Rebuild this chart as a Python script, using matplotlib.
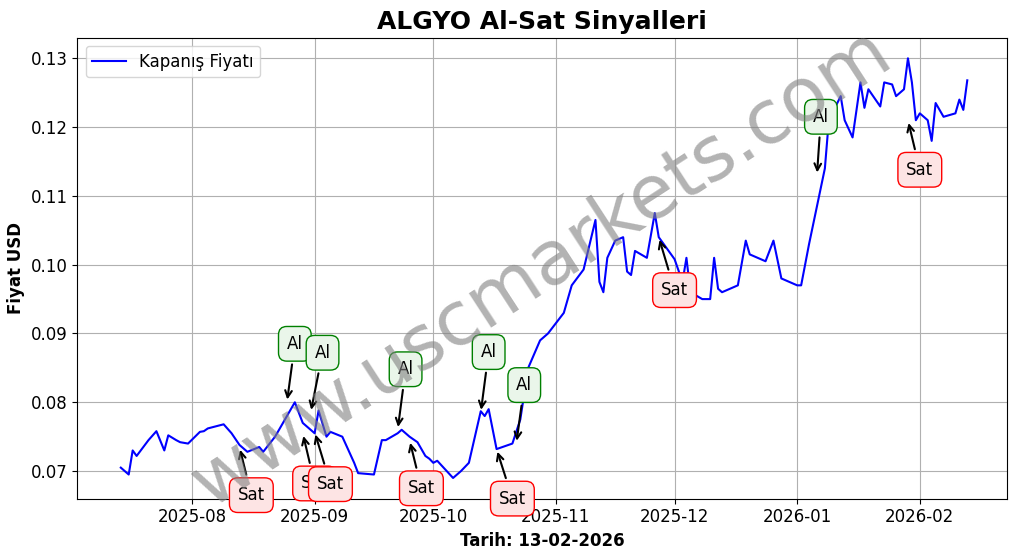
import matplotlib
matplotlib.use("Agg")
import matplotlib.pyplot as plt
import matplotlib.dates as mdates
import pandas as pd

dates = ["2025-07-14","2025-07-16","2025-07-17","2025-07-18","2025-07-21","2025-07-23","2025-07-25","2025-07-26",
 "2025-07-28","2025-07-29","2025-07-31","2025-08-03","2025-08-04","2025-08-05","2025-08-09","2025-08-11",
 "2025-08-13","2025-08-15","2025-08-18","2025-08-19","2025-08-22","2025-08-25","2025-08-27","2025-08-29",
 "2025-09-01","2025-09-02","2025-09-04","2025-09-05","2025-09-08","2025-09-11","2025-09-12","2025-09-16",
 "2025-09-18","2025-09-19","2025-09-22","2025-09-23","2025-09-25","2025-09-27","2025-09-29","2025-09-30",
 "2025-10-01","2025-10-02","2025-10-06","2025-10-08","2025-10-10","2025-10-13","2025-10-14","2025-10-15",
 "2025-10-17","2025-10-21","2025-10-23","2025-10-25","2025-10-28","2025-10-30","2025-11-03","2025-11-05",
 "2025-11-08","2025-11-11","2025-11-12","2025-11-13","2025-11-14","2025-11-16","2025-11-18","2025-11-19",
 "2025-11-20","2025-11-21","2025-11-24","2025-11-26","2025-11-27","2025-12-01","2025-12-03","2025-12-04",
 "2025-12-05","2025-12-08","2025-12-10","2025-12-11","2025-12-12","2025-12-13","2025-12-17","2025-12-19",
 "2025-12-20","2025-12-24","2025-12-26","2025-12-28","2026-01-01","2026-01-02","2026-01-04","2026-01-08",
 "2026-01-09","2026-01-12","2026-01-13","2026-01-15","2026-01-17","2026-01-18","2026-01-19","2026-01-22",
 "2026-01-23","2026-01-25","2026-01-26","2026-01-28","2026-01-29","2026-01-30","2026-01-31","2026-02-01",
 "2026-02-03","2026-02-04","2026-02-05","2026-02-07","2026-02-10","2026-02-11","2026-02-12","2026-02-13"]
prices = [0.0705,0.0695,0.0730,0.0722,0.0745,0.0758,0.0730,0.0752,
 0.0745,0.0742,0.0740,0.0757,0.0758,0.0762,0.0768,0.0755,
 0.0738,0.0728,0.0735,0.0728,0.0750,0.0780,0.0800,0.0770,
 0.0755,0.0788,0.0750,0.0757,0.0750,0.0712,0.0697,0.0695,
 0.0745,0.0745,0.0755,0.0760,0.0750,0.0742,0.0722,0.0718,
 0.0712,0.0715,0.0690,0.0700,0.0712,0.0787,0.0780,0.0790,
 0.0732,0.0740,0.0775,0.0850,0.0890,0.0900,0.0930,0.0970,
 0.0993,0.1065,0.0975,0.0960,0.1010,0.1035,0.1040,0.0990,
 0.0985,0.1020,0.1010,0.1075,0.1040,0.1008,0.0975,0.1010,
 0.0960,0.0950,0.0950,0.1010,0.0965,0.0960,0.0970,0.1035,
 0.1015,0.1005,0.1035,0.0980,0.0970,0.0970,0.1030,0.1140,
 0.1210,0.1245,0.1210,0.1185,0.1265,0.1228,0.1255,0.1230,
 0.1265,0.1262,0.1245,0.1255,0.1300,0.1265,0.1210,0.1220,
 0.1210,0.1180,0.1235,0.1215,0.1220,0.1240,0.1225,0.1268]

al_pts = [("2025-08-25",0.0800),("2025-08-31",0.0785),("2025-09-22",0.0760),
          ("2025-10-13",0.0785),("2025-10-22",0.0740),("2026-01-06",0.1130)]
al_txt = [("2025-08-27",0.0885),("2025-09-03",0.0872),("2025-09-24",0.0848),
          ("2025-10-15",0.0873),("2025-10-24",0.0825),("2026-01-07",0.1215)]
sat_pts = [("2025-08-13",0.0735),("2025-08-29",0.0755),("2025-09-01",0.0757),
           ("2025-09-25",0.0745),("2025-10-17",0.0732),("2025-11-27",0.1040),("2026-01-29",0.1210)]
sat_txt = [("2025-08-16",0.0665),("2025-09-01",0.0682),("2025-09-05",0.0681),
           ("2025-09-28",0.0675),("2025-10-21",0.0660),("2025-12-01",0.0963),("2026-02-01",0.1138)]

fig, ax = plt.subplots(figsize=(10.17,5.54), dpi=100)
ax.plot(pd.to_datetime(dates), prices, color="blue", lw=1.5, label="Kapanış Fiyatı")
for (d,v),(td,tv) in zip(al_pts, al_txt):
    ax.annotate("Al", xy=(pd.Timestamp(d),v), xytext=(pd.Timestamp(td),tv), ha="center", va="center", fontsize=12,
                bbox=dict(boxstyle="round,pad=0.5", fc="#eaf6ea", ec="green"),
                arrowprops=dict(arrowstyle="->", color="black", lw=1.5))
for (d,v),(td,tv) in zip(sat_pts, sat_txt):
    ax.annotate("Sat", xy=(pd.Timestamp(d),v), xytext=(pd.Timestamp(td),tv), ha="center", va="center", fontsize=12,
                bbox=dict(boxstyle="round,pad=0.5", fc="#fde4e4", ec="red"),
                arrowprops=dict(arrowstyle="->", color="black", lw=1.5))
ax.text(0.5,0.5,"www.uscmarkets.com", transform=ax.transAxes, fontsize=54, color="gray", alpha=0.6,
        rotation=33, ha="center", va="center")
ax.set_ylim(0.066,0.133)
ax.set_xlim(pd.Timestamp("2025-07-03"), pd.Timestamp("2026-02-23"))
ax.xaxis.set_major_locator(mdates.MonthLocator())
ax.xaxis.set_major_formatter(mdates.DateFormatter("%Y-%m"))
ax.tick_params(labelsize=12)
ax.grid(True)
ax.set_title("ALGYO Al-Sat Sinyalleri", fontsize=18, fontweight="bold")
ax.set_xlabel("Tarih: 13-02-2026", fontsize=12, fontweight="bold")
ax.set_ylabel("Fiyat USD", fontsize=12, fontweight="bold")
ax.legend(loc="upper left", fontsize=12)
fig.subplots_adjust(left=0.076, right=0.99, top=0.932, bottom=0.1)
fig.savefig("out.png")
